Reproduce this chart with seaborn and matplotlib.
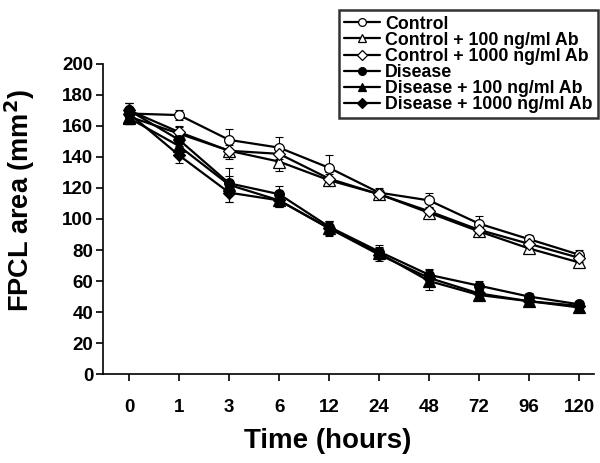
import pandas as pd
import matplotlib
matplotlib.use('Agg')
import matplotlib.pyplot as plt
import seaborn as sns

# 时间点（按类别等距排列）
hours = ['0', '1', '3', '6', '12', '24', '48', '72', '96', '120']

ctrl = [168, 167, 151, 146, 133, 117, 112, 97, 87, 77]
ctrl_100 = [166, 155, 144, 137, 125, 116, 104, 92, 81, 72]
ctrl_1000 = [170, 156, 144, 142, 126, 116, 105, 93, 84, 75]
dis = [170, 151, 123, 116, 95, 79, 64, 57, 50, 45]
dis_100 = [165, 147, 122, 112, 94, 78, 60, 51, 47, 43]
dis_1000 = [168, 141, 117, 112, 94, 77, 62, 52, 47, 44]

ctrl_err = [7, 3, 7, 7, 8, 3, 5, 5, 3, 3]
ctrl_100_err = [5, 4, 5, 6, 4, 3, 3, 3, 3, 3]
ctrl_1000_err = [5, 4, 4, 5, 4, 3, 3, 3, 3, 3]
dis_err = [5, 4, 5, 5, 4, 4, 4, 3, 2, 2]
dis_100_err = [4, 5, 11, 4, 5, 4, 6, 3, 2, 2]
dis_1000_err = [4, 5, 6, 4, 4, 4, 5, 3, 2, 2]

labels = ['Control', 'Control + 100 ng/ml Ab', 'Control + 1000 ng/ml Ab',
          'Disease', 'Disease + 100 ng/ml Ab', 'Disease + 1000 ng/ml Ab']
values = [ctrl, ctrl_100, ctrl_1000, dis, dis_100, dis_1000]
errors = [ctrl_err, ctrl_100_err, ctrl_1000_err, dis_err, dis_100_err, dis_1000_err]
markers = ['o', '^', 'D', 'o', '^', 'D']
faces = ['white', 'white', 'white', 'black', 'black', 'black']
msizes = [7, 8, 6, 7, 8, 6]

sns.set_style('ticks')
plt.rcParams['font.family'] = ['Liberation Sans', 'DejaVu Sans']
plt.rcParams['text.color'] = 'black'
plt.rcParams['axes.labelcolor'] = 'black'
plt.rcParams['xtick.color'] = 'black'
plt.rcParams['ytick.color'] = 'black'

fig = plt.figure(figsize=(6, 4.63), dpi=100)
ax = fig.add_axes([0.172, 0.192, 0.818, 0.670])

pos = list(range(len(hours)))
for lab, v, e, m, fc, ms in zip(labels, values, errors, markers, faces, msizes):
    df = pd.DataFrame({'pos': pos, 'area': v})
    ax.errorbar(pos, v, yerr=e, fmt='none', ecolor='black', elinewidth=0.8,
                capsize=3, capthick=0.8, zorder=2)
    sns.lineplot(data=df, x='pos', y='area', ax=ax, color='black', lw=1.6,
                 marker=m, markersize=ms, markerfacecolor=fc,
                 markeredgecolor='black', markeredgewidth=0.9, label=lab, zorder=3)

ax.set_xlim(-0.52, 9.3)
ax.set_ylim(0, 200)
ax.set_yticks(range(0, 201, 20))
ax.set_xticks(pos)
ax.set_xticklabels(hours)
ax.tick_params(axis='both', labelsize=13.5, width=1.2, length=5, color='black')
for t in ax.get_xticklabels() + ax.get_yticklabels():
    t.set_fontweight('bold')
ax.tick_params(axis='x', pad=13)
ax.tick_params(axis='y', pad=2)
ax.set_xlabel('Time (hours)', fontsize=20, fontweight='bold')
ax.set_ylabel('FPCL area (mm$^\\mathbf{2}$)', fontsize=19.5, fontweight='bold')
ax.xaxis.set_label_coords(0.458, -0.175)
ax.yaxis.set_label_coords(-0.135, 0.56)
sns.despine(ax=ax)
for s in ['left', 'bottom']:
    ax.spines[s].set_linewidth(1.2)
    ax.spines[s].set_color('black')

h, l = ax.get_legend_handles_labels()
ax.get_legend().remove()
leg = fig.legend(h, l, loc='upper right', bbox_to_anchor=(0.997, 0.978),
                 prop={'size': 12.8, 'weight': 'bold'}, frameon=True, fancybox=False,
                 edgecolor='black', handlelength=2.0, handletextpad=0.3,
                 labelspacing=-0.05, borderpad=0.3, borderaxespad=0, markerscale=0.8)
leg.get_frame().set_linewidth(1.8)

plt.savefig('out.png', dpi=100)
